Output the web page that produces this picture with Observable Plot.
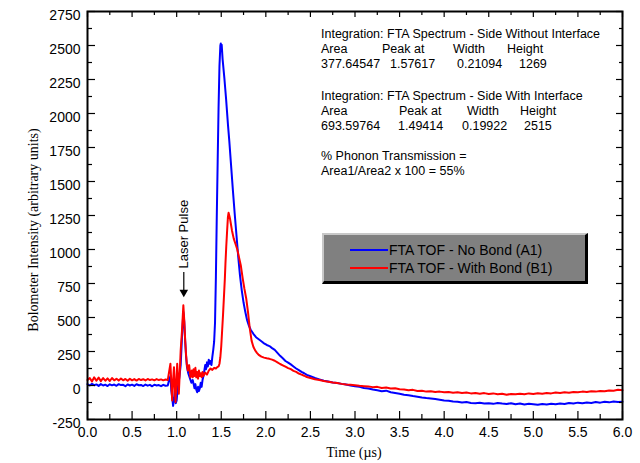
<!DOCTYPE html>
<html><head><meta charset="utf-8">
<script src="https://cdn.jsdelivr.net/npm/d3@7"></script>
<script src="https://cdn.jsdelivr.net/npm/@observablehq/plot@0.6"></script>
<style>
body{margin:0;background:#fff;}
#wrap{position:relative;width:640px;height:463px;font-family:"Liberation Sans",Arial,sans-serif;color:#000;}
#wrap svg{position:absolute;left:0;top:0;}
.ov{position:absolute;white-space:pre;line-height:15px;}
.ann{font-size:12.5px;}
.serif{font-family:"Liberation Serif","Times New Roman",serif;font-size:14px;}
#legend{position:absolute;left:322px;top:233px;width:261px;height:46px;background:#808080;border-top:2px solid #c8c8c8;border-left:2px solid #c8c8c8;border-bottom:3px solid #000;border-right:3px solid #000;}
.lg{position:absolute;font-size:14px;line-height:16px;white-space:nowrap;}
.lgline{position:absolute;height:2px;width:38px;}
</style>
</head><body><div id="wrap"></div>
<script>
// Series A1 (FTA TOF - No Bond), blue
const timeA1 = [0,0.025,0.05,0.075,0.1,0.125,0.15,0.175,0.2,0.225,0.25,0.275,0.3,0.325,0.35,0.375,0.4,0.425,0.45,0.475,0.5,0.525,0.55,0.575,0.6,0.625,0.65,0.675,0.7,0.725,0.75,0.775,0.8,0.825,0.85,0.875,0.9,0.915,0.93,0.94,0.95,0.96,0.97,0.98,0.99,1.0,1.01,1.02,1.03,1.045,1.06,1.075,1.085,1.095,1.105,1.115,1.13,1.15,1.165,1.18,1.19,1.2,1.21,1.22,1.23,1.24,1.25,1.26,1.27,1.28,1.29,1.3,1.31,1.32,1.33,1.34,1.35,1.36,1.37,1.38,1.39,1.4,1.41,1.42,1.43,1.44,1.45,1.46,1.47,1.48,1.49,1.495,1.5,1.505,1.515,1.525,1.535,1.545,1.555,1.565,1.575,1.59,1.61,1.63,1.65,1.67,1.69,1.71,1.73,1.75,1.77,1.79,1.81,1.83,1.86,1.89,1.92,1.95,1.98,2.01,2.04,2.07,2.1,2.13,2.16,2.19,2.22,2.25,2.28,2.31,2.34,2.37,2.4,2.43,2.46,2.5,2.55,2.6,2.65,2.7,2.75,2.8,2.85,2.9,2.95,3.0,3.05,3.1,3.15,3.2,3.25,3.3,3.35,3.4,3.45,3.5,3.55,3.6,3.65,3.7,3.75,3.8,3.85,3.9,3.95,4.0,4.05,4.1,4.15,4.2,4.25,4.3,4.35,4.4,4.45,4.5,4.55,4.6,4.65,4.7,4.75,4.8,4.85,4.9,4.95,5.0,5.05,5.1,5.15,5.2,5.25,5.3,5.35,5.4,5.45,5.5,5.55,5.6,5.65,5.7,5.75,5.8,5.85,5.9,5.95,6.0];
const intensityA1 = [10,0,12,2,8,-3,10,0,6,-4,9,1,7,-2,10,3,5,-5,8,0,6,-3,9,2,4,-4,7,-1,5,-6,6,0,3,-5,5,-2,0,40,70,-40,-90,-150,-100,-40,-130,-110,-30,20,60,150,360,540,470,330,220,140,90,50,20,40,10,-20,10,-30,-50,-10,-40,-20,20,-10,40,70,110,150,120,170,140,190,160,180,150,210,260,320,460,800,1250,1650,2050,2350,2500,2515,2460,2505,2400,2330,2260,2180,2100,2010,1920,1800,1620,1440,1270,1110,950,810,700,610,540,480,440,410,380,355,340,325,310,298,290,275,262,240,218,200,180,168,155,140,125,113,100,90,78,68,55,45,35,30,22,18,12,8,0,-5,-10,-18,-22,-30,-35,-42,-38,-50,-55,-60,-68,-72,-78,-82,-88,-92,-95,-100,-105,-110,-112,-118,-120,-125,-122,-128,-130,-127,-132,-130,-135,-128,-133,-136,-130,-138,-133,-140,-135,-138,-142,-136,-140,-135,-138,-132,-136,-128,-132,-126,-130,-125,-128,-122,-126,-120,-124,-118,-122,-120];

// Series B1 (FTA TOF - With Bond), red
const timeB1 = [0,0.025,0.05,0.075,0.1,0.125,0.15,0.175,0.2,0.225,0.25,0.275,0.3,0.325,0.35,0.375,0.4,0.425,0.45,0.475,0.5,0.525,0.55,0.575,0.6,0.625,0.65,0.675,0.7,0.725,0.75,0.775,0.8,0.825,0.85,0.875,0.9,0.915,0.93,0.94,0.95,0.96,0.97,0.98,0.987,0.995,1.006,1.015,1.024,1.035,1.045,1.06,1.075,1.085,1.095,1.105,1.115,1.125,1.14,1.155,1.17,1.18,1.19,1.2,1.21,1.22,1.23,1.24,1.25,1.26,1.27,1.28,1.29,1.3,1.32,1.34,1.36,1.38,1.4,1.42,1.44,1.455,1.47,1.48,1.49,1.5,1.51,1.52,1.53,1.54,1.547,1.556,1.566,1.575,1.582,1.59,1.6,1.61,1.62,1.64,1.66,1.68,1.7,1.72,1.74,1.76,1.78,1.8,1.82,1.84,1.86,1.88,1.9,1.92,1.95,1.98,2.01,2.04,2.07,2.1,2.13,2.16,2.19,2.22,2.25,2.28,2.31,2.34,2.37,2.4,2.43,2.46,2.5,2.55,2.6,2.65,2.7,2.75,2.8,2.85,2.9,2.95,3.0,3.05,3.1,3.15,3.2,3.25,3.3,3.35,3.4,3.45,3.5,3.55,3.6,3.65,3.7,3.75,3.8,3.85,3.9,3.95,4.0,4.05,4.1,4.15,4.2,4.25,4.3,4.35,4.4,4.45,4.5,4.55,4.6,4.65,4.7,4.75,4.8,4.85,4.9,4.95,5.0,5.05,5.1,5.15,5.2,5.25,5.3,5.35,5.4,5.45,5.5,5.55,5.6,5.65,5.7,5.75,5.8,5.85,5.9,5.95,6.0];
const intensityB1 = [40,55,30,60,35,58,32,55,35,52,33,55,38,50,36,52,38,48,35,50,38,47,36,48,40,46,37,48,40,45,38,47,40,45,38,44,40,100,160,20,-110,40,135,-20,-122,0,160,50,-61,100,257,404,590,480,340,230,150,110,150,60,110,60,120,70,130,60,100,50,110,70,90,60,100,70,95,80,110,125,115,130,125,135,140,160,208,290,404,520,650,780,895,1020,1140,1240,1270,1250,1220,1180,1140,1080,1040,1000,940,880,790,710,640,540,420,330,285,258,240,225,212,205,200,196,190,182,170,158,148,138,128,120,108,100,88,80,72,62,55,46,40,33,28,22,18,12,8,5,2,-2,-5,-8,-12,-10,-18,-15,-22,-20,-28,-30,-35,-32,-40,-38,-45,-42,-48,-45,-50,-48,-53,-50,-55,-52,-58,-55,-60,-56,-62,-58,-64,-60,-68,-62,-65,-60,-64,-58,-62,-57,-60,-55,-58,-52,-55,-50,-53,-48,-50,-45,-48,-42,-45,-40,-42,-36,-38,-32,-35];

const seriesNames = ["FTA TOF - No Bond (A1)", "FTA TOF - With Bond (B1)"];
const seriesColors = ["#0000ff", "#ff0000"];

const xTicks = [0,0.5,1,1.5,2,2.5,3,3.5,4,4.5,5,5.5,6];
const xMinor = [0.25,0.75,1.25,1.75,2.25,2.75,3.25,3.75,4.25,4.75,5.25,5.75];
const yTicks = [-250,0,250,500,750,1000,1250,1500,1750,2000,2250,2500,2750];
const yMinor = [-125,125,375,625,875,1125,1375,1625,1875,2125,2375,2625];

// Laser pulse annotation (data coordinates)
const laserTime = 1.08;
const laserLabelBase = 860;
const laserArrowTop = 830;
const laserArrowTip = 660;

// Integration annotation text
const annBlock1 = ["Integration: FTA Spectrum - Side Without Interface"];
const annHead1 = ["Area","Peak at","Width","Height"];
const annVals1 = ["377.64547","1.57617","0.21094","1269"];
const annBlock2 = ["Integration: FTA Spectrum - Side With Interface"];
const annHead2 = ["Area","Peak at","Width","Height"];
const annVals2 = ["693.59764","1.49414","0.19922","2515"];
const annBlock3 = ["% Phonon Transmission =","Area1/Area2 x 100 = 55%"];

const W = 640, H = 463, mL = 87, mR = 18, mT = 11, mB = 44;
const pw = W - mL - mR, ph = H - mT - mB;

const a1 = timeA1.map((t, i) => ({t, v: intensityA1[i]}));
const b1 = timeB1.map((t, i) => ({t, v: intensityB1[i]}));

const chart = Plot.plot({
  width: W, height: H,
  marginLeft: mL, marginRight: mR, marginTop: mT, marginBottom: mB,
  style: {fontFamily: "'Liberation Sans', Arial, sans-serif", fontSize: "14px", background: "transparent", color: "#000"},
  x: {domain: [0, 6]},
  y: {domain: [-250, 2750]},
  marks: [
    Plot.line(a1, {x: "t", y: "v", stroke: seriesColors[0], strokeWidth: 2}),
    Plot.line(b1, {x: "t", y: "v", stroke: seriesColors[1], strokeWidth: 2}),
    // inward ticks
    Plot.tickY(yTicks, {y: d => d, insetRight: pw - 8, stroke: "#000", strokeWidth: 1.2}),
    Plot.tickY(yMinor, {y: d => d, insetRight: pw - 5, stroke: "#000", strokeWidth: 1.2}),
    Plot.tickY(yTicks, {y: d => d, insetLeft: pw - 6, stroke: "#000", strokeWidth: 1.2}),
    Plot.tickY(yMinor, {y: d => d, insetLeft: pw - 3, stroke: "#000", strokeWidth: 1.2}),
    Plot.tickX(xTicks, {x: d => d, insetTop: ph - 8, stroke: "#000", strokeWidth: 1.2}),
    Plot.tickX(xMinor, {x: d => d, insetTop: ph - 5, stroke: "#000", strokeWidth: 1.2}),
    Plot.tickX(xTicks, {x: d => d, insetBottom: ph - 6, stroke: "#000", strokeWidth: 1.2}),
    Plot.tickX(xMinor, {x: d => d, insetBottom: ph - 4, stroke: "#000", strokeWidth: 1.2}),
    Plot.frame({stroke: "#000", strokeWidth: 2}),
    Plot.axisX({ticks: xTicks, tickSize: 0, tickPadding: 8, tickFormat: d => d.toFixed(1), label: null, fontSize: 14}),
    Plot.axisY({ticks: yTicks, tickSize: 0, tickPadding: 7, dy: 4, tickFormat: d => `${d}`, label: null, fontSize: 14}),
    // Laser pulse annotation
    Plot.text(["Laser Pulse"], {x: () => laserTime, y: () => laserLabelBase, rotate: -90, textAnchor: "start", fontSize: 13, fill: "#000"}),
    Plot.ruleX([laserTime], {x: d => d, y1: laserArrowTop, y2: laserArrowTip + 20, stroke: "#000", strokeWidth: 1.2}),
    Plot.dot([laserTime], {x: d => d, y: laserArrowTip + 25, symbol: "triangle", rotate: 180, r: 3.2, fill: "#000", stroke: "none"})
  ]
});

const wrap = document.getElementById("wrap");
wrap.appendChild(chart);

function addDiv(cls, text, left, top, extra) {
  const d = document.createElement("div");
  d.className = cls;
  d.textContent = text;
  d.style.left = left + "px";
  d.style.top = top + "px";
  if (extra) Object.assign(d.style, extra);
  wrap.appendChild(d);
  return d;
}

// Annotation block
const col1 = [321, 382, 453, 507];
const colV1 = [321, 390, 457, 519];
const col2 = [321, 399, 467, 520];
const colV2 = [321, 398, 462, 524];
addDiv("ov ann", annBlock1[0], 321, 27);
annHead1.forEach((s, i) => addDiv("ov ann", s, col1[i], 42));
annVals1.forEach((s, i) => addDiv("ov ann", s, colV1[i], 57));
addDiv("ov ann", annBlock2[0], 321, 89);
annHead2.forEach((s, i) => addDiv("ov ann", s, col2[i], 104));
annVals2.forEach((s, i) => addDiv("ov ann", s, colV2[i], 119));
annBlock3.forEach((s, i) => addDiv("ov ann", s, 321, 149 + 15 * i));

// Axis titles
addDiv("ov serif", "Time (\u00b5s)", 354, 452, {transform: "translate(-50%,-50%)"});
addDiv("ov serif", "Bolometer Intensity (arbitrary units)", 33, 230, {transform: "translate(-50%,-50%) rotate(-90deg)"});

// Legend
const legend = document.createElement("div");
legend.id = "legend";
wrap.appendChild(legend);
seriesNames.forEach((name, i) => {
  const ln = document.createElement("div");
  ln.className = "lgline";
  ln.style.background = seriesColors[i];
  ln.style.left = (350 - 324) + "px";
  ln.style.top = (249 + 18 * i - 235) + "px";
  legend.appendChild(ln);
  const t = document.createElement("div");
  t.className = "lg";
  t.textContent = name;
  t.style.left = (389 - 324) + "px";
  t.style.top = (250 + 18 * i - 235 - 8) + "px";
  legend.appendChild(t);
});
</script>
</body></html>
